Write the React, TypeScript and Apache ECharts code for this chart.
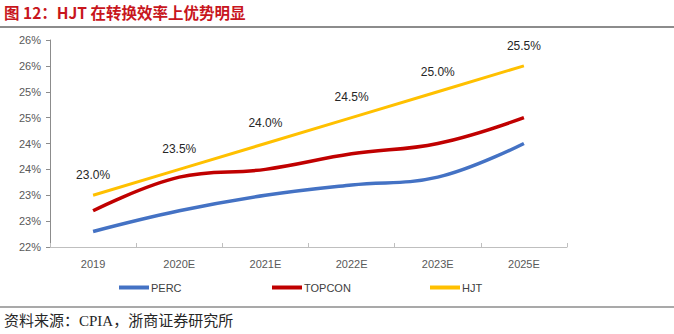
import React, { useEffect, useRef } from "react";
import * as echarts from "echarts";

const categories = ["2019", "2020E", "2021E", "2022E", "2023E", "2025E"];
const percValues = [22.3, 22.7, 23.0, 23.2, 23.35, 24.0];
const topconValues = [22.7, 23.35, 23.5, 23.8, 24.0, 24.5];
const hjtValues = [23.0, 23.5, 24.0, 24.5, 25.0, 25.5];
const seriesNames = ["PERC", "TOPCON", "HJT"];
const seriesColors = ["#4472C4", "#C00000", "#FFC000"];
const titleText = "图 12：HJT 在转换效率上优势明显";
const sourceText = "资料来源：CPIA，浙商证券研究所";

export default function App() {
  const ref = useRef<HTMLDivElement>(null);
  useEffect(() => {
    document.body.style.margin = "0";
    if (!ref.current) return;
    const chart = echarts.init(ref.current, null, { renderer: "svg" });
    const font = "Arial, 'Liberation Sans', 'Noto Sans CJK SC', sans-serif";
    const legendBase = {
      orient: "horizontal" as const,
      top: 277,
      itemWidth: 30,
      itemHeight: 4,
      itemGap: 2,
      icon: "rect",
      textStyle: { color: "#404040", fontSize: 11, fontFamily: font, padding: [0, 0, 0, -3] },
    };
    chart.setOption({
      animation: false,
      backgroundColor: "#ffffff",
      color: seriesColors,
      grid: { left: 50, right: 107, top: 40, bottom: 87 },
      legend: [
        { ...legendBase, left: 114, data: [{ name: seriesNames[0], itemStyle: { color: seriesColors[0], opacity: 1 } }] },
        { ...legendBase, left: 267, data: [{ name: seriesNames[1], itemStyle: { color: seriesColors[1], opacity: 1 } }] },
        { ...legendBase, left: 425, data: [{ name: seriesNames[2], itemStyle: { color: seriesColors[2], opacity: 1 } }] },
      ],
      xAxis: {
        type: "category",
        data: categories,
        boundaryGap: true,
        axisLine: { lineStyle: { color: "#BFBFBF", width: 1 } },
        axisTick: { show: true, inside: true, length: 4, lineStyle: { color: "#BFBFBF" } },
        axisLabel: { color: "#595959", fontSize: 11, fontFamily: font, margin: 11 },
      },
      yAxis: {
        type: "value",
        min: 22,
        max: 26,
        interval: 0.5,
        splitLine: { show: false },
        axisLine: { show: true, lineStyle: { color: "#8C8C8C", width: 1 } },
        axisTick: { show: true, length: 4, lineStyle: { color: "#8C8C8C" } },
        axisLabel: {
          color: "#595959",
          fontSize: 11,
          fontFamily: font,
          margin: 9,
          formatter: (v: number) => Math.round(v) + "%",
        },
      },
      series: [
        {
          name: seriesNames[0],
          type: "line",
          data: percValues,
          smooth: 0.4,
          showSymbol: false,
          symbol: "none",
          lineStyle: { width: 3.5, color: seriesColors[0] },
        },
        {
          name: seriesNames[1],
          type: "line",
          data: topconValues,
          smooth: 0.4,
          showSymbol: false,
          symbol: "none",
          lineStyle: { width: 3.5, color: seriesColors[1] },
        },
        {
          name: seriesNames[2],
          type: "line",
          data: hjtValues,
          symbol: "circle",
          symbolSize: 0.5,
          showSymbol: true,
          itemStyle: { color: "rgba(255,192,0,0)" },
          lineStyle: { width: 3, color: seriesColors[2] },
          label: {
            show: true,
            position: "top",
            distance: 14,
            color: "#262626",
            fontSize: 12,
            fontFamily: font,
            formatter: (p: any) => Number(p.value).toFixed(1) + "%",
          },
        },
      ],
      graphic: [
        {
          type: "text",
          left: 4,
          top: 4,
          style: {
            text: titleText,
            fill: "#C8161D",
            font: "bold 15.5px 'Noto Sans CJK SC', Arial, sans-serif",
          },
        },
        {
          type: "line",
          shape: { x1: 0, y1: 27, x2: 674, y2: 27 },
          style: { stroke: "#8C8C8C", lineWidth: 2 },
        },
        {
          type: "line",
          shape: { x1: 0, y1: 307, x2: 674, y2: 307 },
          style: { stroke: "#8C8C8C", lineWidth: 1.5 },
        },
        {
          type: "text",
          left: 4,
          top: 313,
          style: {
            text: sourceText,
            fill: "#262626",
            font: "15px serif, 'Noto Sans CJK SC'",
          },
        },
      ],
    });
    return () => chart.dispose();
  }, []);
  return <div ref={ref} style={{ width: 674, height: 334 }} />;
}
